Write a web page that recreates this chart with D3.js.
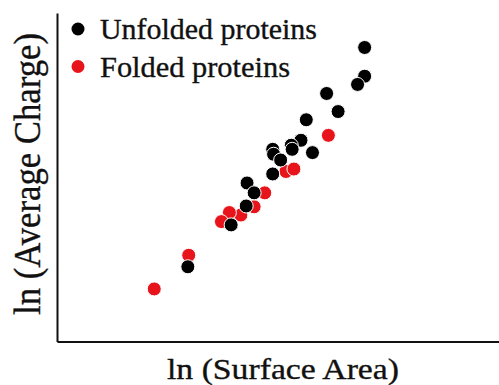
<!DOCTYPE html>
<html>
<head>
<meta charset="utf-8">
<script src="https://cdn.jsdelivr.net/npm/d3@7"></script>
<style>
  body { margin: 0; background: #fff; }
  svg { display: block; }
</style>
</head>
<body>
<div id="chart"></div>
<script>
// ln(surface area) and ln(average charge) (arbitrary units)
var unfoldedX = [9.48, 9.48, 9.40, 9.05, 9.18, 8.82, 8.76, 8.65, 8.66, 8.89, 8.44, 8.45, 8.53, 8.44, 8.15, 8.23, 8.14, 7.97, 7.48];
var unfoldedY = [3.58, 3.23, 3.13, 3.02, 2.80, 2.70, 2.45, 2.39, 2.34, 2.30, 2.34, 2.28, 2.21, 2.04, 1.93, 1.81, 1.65, 1.42, 0.91];

var foldedX = [9.07, 8.59, 8.68, 8.35, 8.23, 8.08, 7.95, 7.86, 7.49, 7.10];
var foldedY = [2.51, 2.07, 2.10, 1.81, 1.64, 1.54, 1.57, 1.46, 1.05, 0.64];

var seriesNames = ["Unfolded proteins", "Folded proteins"];
var seriesColors = ["#000000", "#e8141b"];

var width = 499,
    height = 385,
    margin = { left: 57, right: 0, top: 13, bottom: 43.5 };

var serif = "'Liberation Serif', 'Times New Roman', serif";

function translate(x, y) {
    return "translate(" + x + "," + y + ")";
}

var xScale = d3.scaleLinear()
    .domain([6, 11])
    .range([margin.left, width - margin.right]);

var yScale = d3.scaleLinear()
    .domain([0, 4])
    .range([height - margin.bottom, margin.top]);

var svg = d3.select("#chart").append("svg")
    .attr("width", width)
    .attr("height", height);

// axes: plain lines, no ticks
svg.append("g")
    .attr("transform", translate(0, height - margin.bottom))
    .call(d3.axisBottom(xScale).tickValues([]).tickSizeOuter(0));
svg.append("g")
    .attr("transform", translate(margin.left, 0))
    .call(d3.axisLeft(yScale).tickValues([]).tickSizeOuter(0));
svg.selectAll(".domain")
    .attr("stroke", "#111")
    .attr("stroke-width", 2);

function toPoints(xs, ys) {
    return xs.map(function(x, i) { return { x: x, y: ys[i] }; });
}

var series = [
    { name: seriesNames[1], color: seriesColors[1], pts: toPoints(foldedX, foldedY) },
    { name: seriesNames[0], color: seriesColors[0], pts: toPoints(unfoldedX, unfoldedY) }
];

svg.append("g")
    .selectAll("g")
    .data(series)
    .enter().append("g")
    .attr("fill", function(d) { return d.color; })
    .selectAll("circle")
    .data(function(d) { return d.pts; })
    .enter().append("circle")
    .attr("cx", function(d) { return xScale(d.x); })
    .attr("cy", function(d) { return yScale(d.y); })
    .attr("r", 7)
    .attr("stroke", "#fff")
    .attr("stroke-width", 1);

// legend
var legend = svg.append("g")
    .selectAll("g")
    .data(seriesNames)
    .enter().append("g")
    .attr("transform", function(d, i) { return translate(78, 29 + i * 37.5); });

legend.append("circle")
    .attr("r", 6.5)
    .attr("fill", function(d, i) { return seriesColors[i]; });

legend.append("text")
    .attr("x", 22)
    .attr("y", 10)
    .style("font-family", serif)
    .attr("font-size", 30)
    .attr("fill", "#111")
    .attr("stroke", "#111")
    .attr("stroke-width", 0.35)
    .attr("textLength", function(d, i) { return i === 0 ? 217 : 190; })
    .attr("lengthAdjust", "spacingAndGlyphs")
    .text(function(d) { return d; });

// axis titles
svg.append("text")
    .attr("x", 283)
    .attr("y", 379)
    .attr("text-anchor", "middle")
    .style("font-family", serif)
    .attr("font-size", 30)
    .attr("fill", "#111")
    .attr("stroke", "#111")
    .attr("stroke-width", 0.35)
    .attr("textLength", 232)
    .attr("lengthAdjust", "spacingAndGlyphs")
    .text("ln (Surface Area)");

svg.append("text")
    .attr("transform", translate(40, 174) + " rotate(-90)")
    .attr("text-anchor", "middle")
    .style("font-family", serif)
    .attr("font-size", 37)
    .attr("fill", "#111")
    .attr("stroke", "#111")
    .attr("stroke-width", 0.35)
    .attr("textLength", 282)
    .attr("lengthAdjust", "spacingAndGlyphs")
    .text("ln (Average Charge)");
</script>
</body>
</html>
